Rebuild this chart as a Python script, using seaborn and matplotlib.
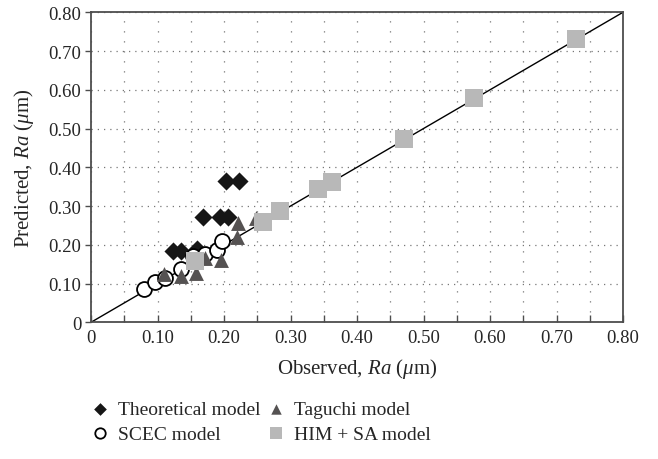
import matplotlib
matplotlib.use("Agg")
import matplotlib.pyplot as plt
import seaborn as sns
import pandas as pd
import numpy as np
from matplotlib.ticker import MultipleLocator

# ---- data ----
theo_x = [0.124, 0.136, 0.159, 0.168, 0.194, 0.206, 0.203, 0.223]
theo_y = [0.185, 0.185, 0.190, 0.273, 0.273, 0.273, 0.365, 0.365]

scec_x = [0.080, 0.096, 0.111, 0.135, 0.153, 0.171, 0.190, 0.197]
scec_y = [0.087, 0.104, 0.114, 0.138, 0.172, 0.175, 0.187, 0.210]

tag_x = [0.110, 0.135, 0.158, 0.172, 0.195, 0.219, 0.221, 0.248]
tag_y = [0.124, 0.120, 0.128, 0.167, 0.161, 0.221, 0.257, 0.268]

him_x = [0.156, 0.259, 0.284, 0.341, 0.362, 0.471, 0.576, 0.729]
him_y = [0.158, 0.259, 0.286, 0.343, 0.362, 0.474, 0.579, 0.730]

diag = [0.0, 0.8]

x_ticks = [0.0, 0.1, 0.2, 0.3, 0.4, 0.5, 0.6, 0.7, 0.8]
x_tick_labels = ["0", "0.10", "0.20", "0.30", "0.40", "0.50", "0.60", "0.70", "0.80"]
y_ticks = x_ticks
y_tick_labels = x_tick_labels

sns.set_theme(style="white")
plt.rcParams["font.family"] = ["Liberation Serif", "DejaVu Serif"]
plt.rcParams["font.serif"] = ["Liberation Serif", "DejaVu Serif"]
plt.rcParams["mathtext.fontset"] = "custom"
plt.rcParams["mathtext.rm"] = "Liberation Serif"
plt.rcParams["mathtext.it"] = "Liberation Serif:italic"

TFS = 13.5   # tick labels
LFS = 15     # axis labels
GFS = 14     # legend
fig = plt.figure(figsize=(6.58, 4.60), dpi=100)
ax = fig.add_axes([91 / 658, 1 - 323.3 / 460, (623 - 91) / 658, (323.3 - 13.3) / 460])

spine_col = "#4d4d4d"
sns.lineplot(x=diag, y=diag, ax=ax, color="black", linewidth=1.0, zorder=2)

sns.scatterplot(x=theo_x, y=theo_y, ax=ax, marker="D", s=85, color="#161616",
                edgecolor="#161616", linewidth=0, zorder=3, label="Theoretical model")
sns.scatterplot(x=scec_x, y=scec_y, ax=ax, marker="o", s=115, facecolor="white",
                edgecolor="black", linewidth=1.3, zorder=4, label="SCEC model")
sns.scatterplot(x=tag_x, y=tag_y, ax=ax, marker="^", s=115, color="#555252",
                edgecolor="#555252", linewidth=0, zorder=5, label="Taguchi model")
sns.scatterplot(x=him_x, y=him_y, ax=ax, marker="s", s=150, color="#b8b8b8",
                edgecolor="#b8b8b8", linewidth=0, zorder=6, label="HIM + SA model")

ax.set_xlim(0, 0.8)
ax.set_ylim(0, 0.8)
ax.set_xticks(x_ticks)
ax.set_xticklabels(x_tick_labels)
ax.set_yticks(y_ticks)
ax.set_yticklabels(y_tick_labels)
ax.xaxis.set_minor_locator(MultipleLocator(0.05))

ax.grid(True, which="both", axis="x", color="#777777", linestyle=(0, (1, 7)), linewidth=0.9)
ax.grid(True, which="major", axis="y", color="#777777", linestyle=(0, (1, 4)), linewidth=0.9)
ax.set_axisbelow(True)

for sp in ax.spines.values():
    sp.set_color(spine_col)
    sp.set_linewidth(1.3)

ax.tick_params(axis="x", which="both", direction="in", length=5, width=1.0,
               color=spine_col, labelsize=TFS, pad=5, bottom=True)
ax.tick_params(axis="y", which="major", direction="out", length=4, width=1.0,
               color=spine_col, labelsize=TFS, pad=3, left=True)

ax.set_xlabel("Observed, $Ra$ ($\\mathit{\\mu}$m)", fontsize=LFS, labelpad=7)
ax.set_ylabel("Predicted, $Ra$ ($\\mathit{\\mu}$m)", fontsize=LFS, labelpad=9)

handles, labels = ax.get_legend_handles_labels()
ax.get_legend().remove()
leg = fig.legend(handles, labels, ncol=2, loc="upper left",
                 bbox_to_anchor=(75 / 658, 1 - 384 / 460), frameon=False,
                 fontsize=GFS, handletextpad=0.52, columnspacing=0.4,
                 labelspacing=0.35, handlelength=0.8, markerscale=0.7)

fig.savefig("out.png", dpi=100)
